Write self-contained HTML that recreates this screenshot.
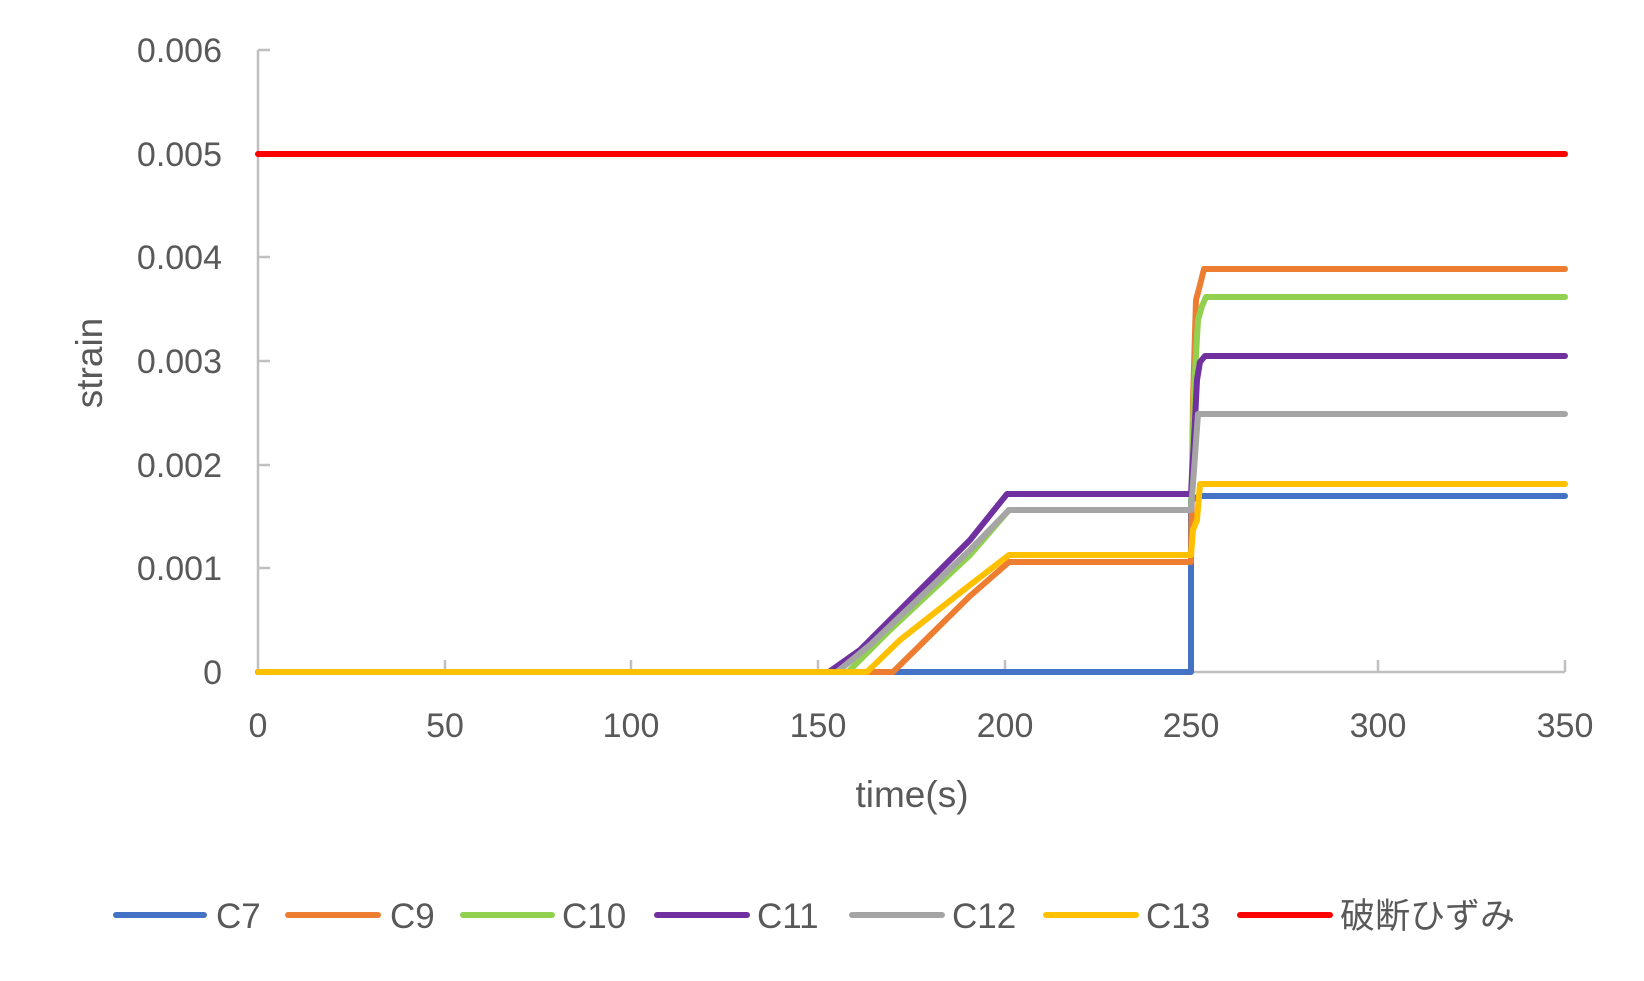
<!DOCTYPE html>
<html><head><meta charset="utf-8"><style>html,body{margin:0;padding:0;background:#fff}svg{display:block}</style></head>
<body>
<svg width="1644" height="981" xmlns="http://www.w3.org/2000/svg" font-family="'Liberation Sans','Noto Sans CJK JP',sans-serif">
<rect width="1644" height="981" fill="#fff"/>
<g stroke="#bfbfbf" stroke-width="2.5" fill="none">
<path d="M258 50 V672 H1565"/>
<path d="M258 50 h12 M258 154 h12 M258 257 h12 M258 361 h12 M258 465 h12 M258 568 h12 M258 672 h12"/>
<path d="M445 672 v-12 M631 672 v-12 M818 672 v-12 M1005 672 v-12 M1191.5 672 v-12 M1378 672 v-12 M1565 672 v-12"/>
</g>
<g font-size="34" fill="#595959" text-anchor="end">
<text x="222" y="62">0.006</text><text x="222" y="166">0.005</text><text x="222" y="269">0.004</text>
<text x="222" y="373">0.003</text><text x="222" y="477">0.002</text><text x="222" y="580">0.001</text><text x="222" y="684">0</text>
</g>
<g font-size="34" fill="#595959" text-anchor="middle">
<text x="258" y="737">0</text><text x="445" y="737">50</text><text x="631" y="737">100</text><text x="818" y="737">150</text>
<text x="1005" y="737">200</text><text x="1191" y="737">250</text><text x="1378" y="737">300</text><text x="1565" y="737">350</text>
<text x="912" y="807" font-size="37">time(s)</text>
<text transform="translate(102,363) rotate(-90)" font-size="37">strain</text>
</g>
<g fill="none" stroke-width="6" stroke-linejoin="round" stroke-linecap="round">
<path stroke="#4472c4" d="M258 672 H1191 V500 L1196 498 L1199 496 H1565"/>
<path stroke="#ed7d31" d="M258 672 H893 L970 596 L1009 562 H1191 L1193 400 L1196 300 L1200 285 L1204 269 H1565"/>
<path stroke="#92d050" d="M258 672 H848 L890 630 L970 555 L1009 510 H1191 L1194 390 L1198 320 L1202 306 L1206 297 H1565"/>
<path stroke="#7030a0" d="M258 672 H829 L860 650 L970 540 L1007 494 H1191 L1194 440 L1197 380 L1200 362 L1205 356 H1565"/>
<path stroke="#a5a5a5" d="M258 672 H837 L870 645 L970 550 L1009 510 H1191 L1194 470 L1198 414 H1565"/>
<path stroke="#ffc000" d="M258 672 H867 L900 640 L970 585 L1009 555 H1191 L1193 530 L1197 520 L1200 484 H1565"/>
<path stroke="#ff0000" d="M258 154 H1565"/>
</g>
<g stroke-width="6" stroke-linecap="round">
<line x1="116" y1="915" x2="204" y2="915" stroke="#4472c4"/>
<line x1="288" y1="915" x2="378" y2="915" stroke="#ed7d31"/>
<line x1="463" y1="915" x2="552" y2="915" stroke="#92d050"/>
<line x1="657" y1="915" x2="747" y2="915" stroke="#7030a0"/>
<line x1="852" y1="915" x2="942" y2="915" stroke="#a5a5a5"/>
<line x1="1046" y1="915" x2="1136" y2="915" stroke="#ffc000"/>
<line x1="1240" y1="915" x2="1330" y2="915" stroke="#ff0000"/>
</g>
<g font-size="35" fill="#595959">
<text x="216" y="928">C7</text><text x="390" y="928">C9</text><text x="562" y="928">C10</text>
<text x="757" y="928">C11</text><text x="952" y="928">C12</text><text x="1146" y="928">C13</text>
<text x="1340" y="928">破断ひずみ</text>
</g>
</svg>
</body></html>
